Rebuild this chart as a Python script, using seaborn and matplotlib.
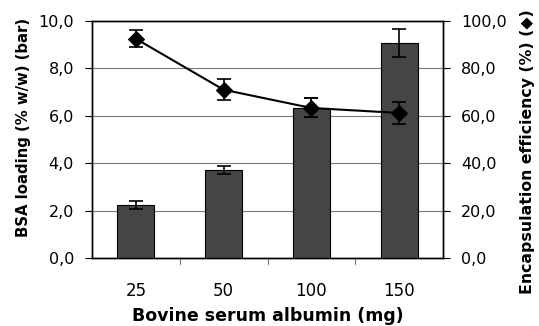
import matplotlib
matplotlib.use("Agg")
import matplotlib.pyplot as plt
import seaborn as sns
import pandas as pd
import numpy as np

categories = ["25", "50", "100", "150"]
loading = [2.25, 3.70, 6.34, 9.08]
loading_err = [0.17, 0.17, 0.40, 0.58]
efficiency = [92.5, 71.0, 63.3, 61.2]
efficiency_err = [3.6, 4.5, 4.0, 4.8]
left_ticks = [0, 2, 4, 6, 8, 10]
right_ticks = [0, 20, 40, 60, 80, 100]

sns.set_style("white")
plt.rcParams['font.family'] = ['DejaVu Sans']
plt.rcParams['text.color'] = 'black'
plt.rcParams['axes.labelcolor'] = 'black'
plt.rcParams['xtick.color'] = 'black'
plt.rcParams['ytick.color'] = 'black'

df = pd.DataFrame({"cat": categories, "load": loading, "eff": efficiency})

fig = plt.figure(figsize=(5.39, 3.26), dpi=100)
ax = fig.add_axes([92/539, 1-258/326, (443-92)/539, (258-21)/326])

sns.barplot(data=df, x="cat", y="load", ax=ax, color="#454545", edgecolor="black",
            linewidth=0.8, width=0.42, saturation=1, errorbar=None, zorder=3)
xpos = np.arange(len(categories))
ax.errorbar(xpos, loading, yerr=loading_err, fmt="none", ecolor="black",
            elinewidth=1.2, capsize=5, capthick=1.2, zorder=4)

ax.set_ylim(0, 10)
ax.set_xlim(-0.5, 3.5)
ax.set_yticks(left_ticks)
ax.set_yticklabels([f"{v:.1f}".replace(".", ",") for v in left_ticks], fontsize=11.5)
ax.yaxis.grid(True, color="#7a7a7a", linewidth=0.8, zorder=0)
ax.set_axisbelow(True)
ax.set_xticks(xpos)
ax.set_xticklabels(categories, fontsize=12)
ax.tick_params(axis="x", length=0, pad=17.5)
for xb in [0.5, 1.5, 2.5]:
    ax.plot([xb, xb], [0, -0.25], color="#666666", linewidth=0.7, clip_on=False, zorder=5)
ax.tick_params(axis="y", direction="out", length=5, width=0.8, left=True, pad=8)
ax.set_xlabel("Bovine serum albumin (mg)", fontsize=12.5, fontweight="bold", labelpad=5)
ax.set_ylabel("BSA loading (% w/w) (bar)", fontsize=10.7, fontweight="bold", va="center")
ax.yaxis.set_label_coords(-0.194, 0.549)
for s in ax.spines.values():
    s.set_color("black")
    s.set_linewidth(1.0)

ax2 = ax.twinx()
sns.lineplot(data=df, x="cat", y="eff", ax=ax2, color="black", linewidth=1.5,
             marker="D", markersize=8, markeredgecolor="black", sort=False, zorder=5)
ax2.errorbar(xpos, efficiency, yerr=efficiency_err, fmt="none", ecolor="black",
             elinewidth=1.2, capsize=5, capthick=1.2, zorder=6)
ax2.set_ylim(0, 100)
ax2.set_yticks(right_ticks)
ax2.set_yticklabels([f"{v:.1f}".replace(".", ",") for v in right_ticks], fontsize=11.5)
ax2.tick_params(axis="y", direction="out", length=5, width=0.8, right=True, pad=8)
ax2.set_ylabel("Encapsulation efficiency (%) (\u25c6)", fontsize=11.3, fontweight="bold",
               va="center")
ax2.yaxis.set_label_coords(1.242, 0.447)
ax2.set_xlabel("")
for s in ax2.spines.values():
    s.set_color("black")
    s.set_linewidth(1.0)

fig.savefig("out.png", dpi=100)
